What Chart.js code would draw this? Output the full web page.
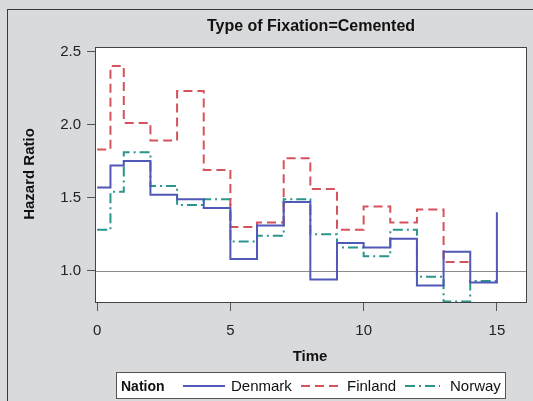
<!DOCTYPE html>
<html>
<head>
<meta charset="utf-8">
<script src="https://cdn.jsdelivr.net/npm/chart.js@4/dist/chart.umd.min.js"></script>
<style>
  html, body { margin: 0; padding: 0; background: #d9dadc; }
  #wrap { width: 533px; height: 401px; }
</style>
</head>
<body>
<div id="wrap"><canvas id="hrChart" width="533" height="401"></canvas></div>
<script>
// время (годы) и отношения рисков по странам
const timeDenmark = [0, 0.5, 1, 2, 3, 4, 5, 6, 7, 8, 9, 10, 11, 12, 13, 14, 15];
const hrDenmark   = [1.57, 1.72, 1.75, 1.52, 1.49, 1.43, 1.08, 1.31, 1.47, 0.94, 1.19, 1.16, 1.22, 0.90, 1.13, 0.92, 1.40];

const timeFinland = [0, 0.5, 1, 2, 3, 4, 5, 6, 7, 8, 9, 10, 11, 12, 13, 14];
const hrFinland   = [1.83, 2.40, 2.01, 1.89, 2.23, 1.69, 1.30, 1.33, 1.77, 1.56, 1.28, 1.44, 1.33, 1.42, 1.06, 1.06];

const timeNorway  = [0, 0.5, 1, 2, 3, 4, 5, 6, 7, 8, 9, 10, 11, 12, 13, 14, 15];
const hrNorway    = [1.28, 1.54, 1.81, 1.58, 1.45, 1.49, 1.20, 1.24, 1.49, 1.25, 1.16, 1.10, 1.28, 0.96, 0.79, 0.93, 0.93];

const xTicks = [0, 5, 10, 15];
const yTicks = [1.0, 1.5, 2.0, 2.5];

const FONT = "'Liberation Sans', Arial, sans-serif";
Chart.defaults.font.family = FONT;

const toPoints = (xs, ys) => xs.map((x, i) => ({ x: x, y: ys[i] }));

// фон, рамка, опорная линия, подписи и легенда
const framePlugin = {
    id: 'frame',
    beforeDraw(chart) {
        const c = chart.ctx, a = chart.chartArea;
        c.save();
        c.fillStyle = '#d9dadc';
        c.fillRect(0, 0, chart.width, chart.height);
        c.strokeStyle = '#3a3a3a';
        c.lineWidth = 1;
        c.strokeRect(7.5, 9.5, 600, 500);
        c.fillStyle = '#ffffff';
        c.fillRect(a.left, a.top, a.right - a.left, a.bottom - a.top);
        c.restore();
    },
    beforeDatasetsDraw(chart) {
        const c = chart.ctx, a = chart.chartArea;
        const y = Math.round(chart.scales.y.getPixelForValue(1)) + 0.5;
        c.save();
        c.strokeStyle = '#8a8a8a';
        c.lineWidth = 1;
        c.beginPath();
        c.moveTo(a.left, y);
        c.lineTo(a.right, y);
        c.stroke();
        c.restore();
    },
    afterDraw(chart) {
        const c = chart.ctx, a = chart.chartArea;
        c.save();
        c.strokeStyle = '#444';
        c.lineWidth = 1;
        c.strokeRect(Math.round(a.left) + 0.5, Math.round(a.top) + 0.5,
                     Math.round(a.right - a.left) - 1, Math.round(a.bottom - a.top) - 1);

        c.fillStyle = '#111';
        c.textBaseline = 'middle';
        c.textAlign = 'center';
        c.font = 'bold 16px ' + FONT;
        c.fillText('Type of Fixation=Cemented', 311, 27);
        c.font = 'bold 15px ' + FONT;
        c.fillText('Time', 310, 357);

        c.save();
        c.translate(30, 174);
        c.rotate(-Math.PI / 2);
        c.fillText('Hazard Ratio', 0, 0);
        c.restore();

        // легенда
        c.fillStyle = '#ffffff';
        c.fillRect(116, 372, 389, 26);
        c.strokeStyle = '#555';
        c.strokeRect(116.5, 372.5, 389, 26);
        c.fillStyle = '#111';
        c.textAlign = 'left';
        c.font = 'bold 14px ' + FONT;
        c.fillText('Nation', 121, 387);

        // [начало линии, длина линии, начало текста]
        const slots = [[183, 42, 231], [301, 37, 347], [405, 35, 450]];
        c.font = '15px ' + FONT;
        chart.data.datasets.forEach((ds, i) => {
            const [lx, len, tx] = slots[i];
            c.strokeStyle = ds.borderColor;
            c.lineWidth = 2;
            c.setLineDash(ds.borderDash || []);
            c.beginPath();
            c.moveTo(lx, 386);
            c.lineTo(lx + len, 386);
            c.stroke();
            c.setLineDash([]);
            c.fillStyle = '#111';
            c.fillText(ds.label, tx, 387);
        });
        c.restore();
    }
};

const ctx = document.getElementById('hrChart').getContext('2d');
const hrChart = new Chart(ctx, {
    type: 'line',
    data: {
        datasets: [
            { label: 'Denmark', data: toPoints(timeDenmark, hrDenmark), borderColor: '#5058b8', borderWidth: 2 },
            { label: 'Finland', data: toPoints(timeFinland, hrFinland), borderColor: '#d6525c', borderWidth: 2, borderDash: [9, 5] },
            { label: 'Norway',  data: toPoints(timeNorway, hrNorway),   borderColor: '#2a958b', borderWidth: 2, borderDash: [10, 4, 2, 4] }
        ]
    },
    options: {
        responsive: false,
        animation: false,
        devicePixelRatio: 1,
        layout: { padding: { left: 0, top: 47, right: 6, bottom: 0 } },
        elements: {
            point: { radius: 0, hoverRadius: 0 },
            line: { stepped: 'before', fill: false, tension: 0 }
        },
        plugins: {
            legend: { display: false },
            title: { display: false },
            tooltip: { enabled: false }
        },
        scales: {
            x: {
                type: 'linear',
                min: -0.08,
                max: 16.13,
                afterBuildTicks: s => { s.ticks = xTicks.map(v => ({ value: v })); },
                afterFit: s => { s.height = 98; },
                grid: { drawOnChartArea: false, drawTicks: true, tickLength: 8, tickColor: '#555' },
                border: { display: false },
                ticks: { color: '#222', font: { size: 15 }, padding: 11, maxRotation: 0 }
            },
            y: {
                type: 'linear',
                min: 0.78,
                max: 2.53,
                afterBuildTicks: s => { s.ticks = yTicks.map(v => ({ value: v })); },
                afterFit: s => { s.width = 95; },
                grid: { drawOnChartArea: false, drawTicks: true, tickLength: 8, tickColor: '#555' },
                border: { display: false },
                ticks: { color: '#222', font: { size: 15 }, padding: 6, callback: v => v.toFixed(1) }
            }
        }
    },
    plugins: [framePlugin]
});
</script>
</body>
</html>
